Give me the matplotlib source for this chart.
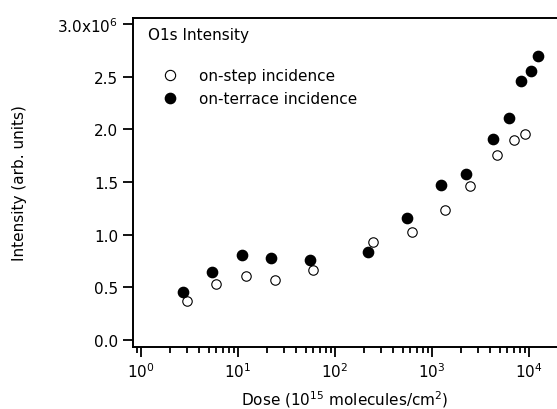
import matplotlib
matplotlib.use("Agg")
import matplotlib.pyplot as plt
from matplotlib.lines import Line2D
import numpy as np

plt.rcParams['font.family'] = ['DejaVu Sans']
plt.rcParams['mathtext.fontset'] = 'dejavusans'

# on-terrace incidence (filled)
terrace_dose = [2.71, 5.4, 11.0, 21.9, 55, 219, 552, 1239, 2240, 4260, 6200, 8270, 10500, 12300]
terrace_int = [0.456e6, 0.646e6, 0.807e6, 0.78e6, 0.76e6, 0.836e6, 1.158e6, 1.47e6, 1.577e6,
               1.909e6, 2.11e6, 2.46e6, 2.55e6, 2.70e6]
# on-step incidence (open)
step_dose = [2.98, 6.0, 12.1, 24, 60, 245, 618, 1360, 2460, 4690, 6950, 9100]
step_int = [0.37e6, 0.53e6, 0.605e6, 0.566e6, 0.667e6, 0.93e6, 1.027e6, 1.235e6, 1.46e6,
            1.757e6, 1.90e6, 1.956e6]

yticks = [0, 0.5e6, 1.0e6, 1.5e6, 2.0e6, 2.5e6, 3.0e6]
ytick_labels = ['0.0', '0.5', '1.0', '1.5', '2.0', '2.5', r'3.0x10$^{6}$']
xticks = [1, 10, 100, 1000, 10000]
xtick_labels = [r'10$^{0}$', r'10$^{1}$', r'10$^{2}$', r'10$^{3}$', r'10$^{4}$']

fig = plt.figure(figsize=(5.57, 4.10), dpi=100)
ax = fig.add_axes([133/557, 62/410, 1 - 133/557, (348-19)/410])

ax.plot(step_dose, step_int, linestyle='none', marker='o', markersize=6.8,
        markerfacecolor='white', markeredgecolor='black', markeredgewidth=0.8)
ax.plot(terrace_dose, terrace_int, linestyle='none', marker='o', markersize=7.4,
        markerfacecolor='black', markeredgecolor='black')

ax.set_xscale('log')
ax.set_xlim(0.827, 19450)
ax.set_ylim(-0.0665e6, 3.058e6)
ax.set_xticks(xticks)
ax.set_xticklabels(xtick_labels)
ax.set_yticks(yticks)
ax.set_yticklabels(ytick_labels)
ax.xaxis.set_minor_locator(matplotlib.ticker.LogLocator(base=10, subs=np.arange(2, 10)))
ax.xaxis.set_minor_formatter(matplotlib.ticker.NullFormatter())

ax.spines['right'].set_visible(False)
for s in ['left', 'bottom', 'top']:
    ax.spines[s].set_linewidth(1.4)
ax.tick_params(axis='both', which='major', direction='out', length=7.5, width=1.3,
               labelsize=11, pad=3)
ax.tick_params(axis='x', which='minor', direction='out', length=4.5, width=1.3)
ax.tick_params(axis='y', which='minor', left=False)

ax.set_xlabel(r'Dose (10$^{15}$ molecules/cm$^{2}$)', fontsize=11)
ax.xaxis.set_label_coords(0.5, -0.125)
ax.set_ylabel('Intensity (arb. units)', fontsize=11)
ax.yaxis.set_label_coords(-0.25, 0.5)

ax.text(0.035, 0.951, 'O1s Intensity', transform=ax.transAxes, fontsize=11,
        va='center', ha='left')

handles = [
    Line2D([], [], linestyle='none', marker='o', markersize=7.4, markerfacecolor='white',
           markeredgecolor='black', markeredgewidth=0.8),
    Line2D([], [], linestyle='none', marker='o', markersize=7.4, markerfacecolor='black',
           markeredgecolor='black'),
]
ax.legend(handles, ['on-step incidence', 'on-terrace incidence'], frameon=False,
          loc='upper left', bbox_to_anchor=(0.052, 0.866), fontsize=11,
          handlelength=1.2, handletextpad=1.3, labelspacing=0.53, borderaxespad=0,
          borderpad=0.4)

fig.savefig('out.png', dpi=100)
